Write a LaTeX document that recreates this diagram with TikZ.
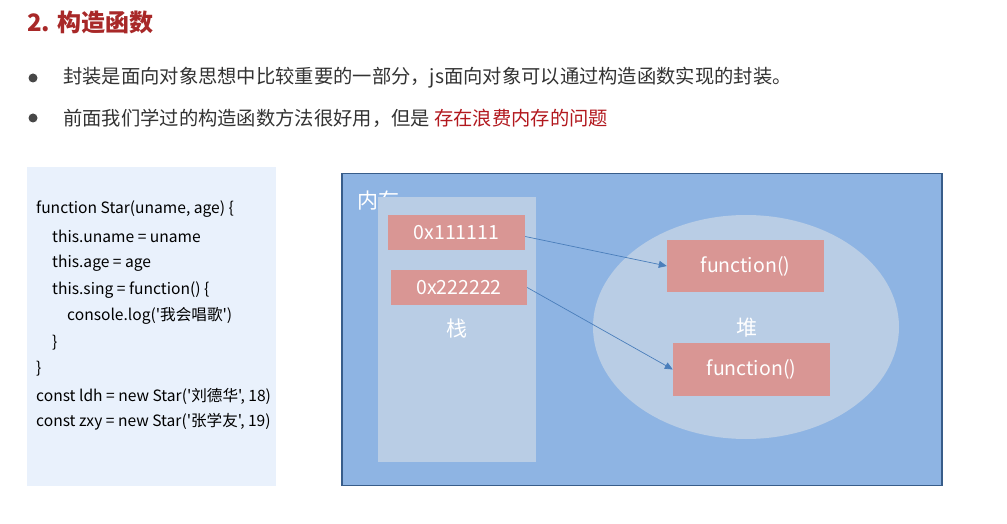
\documentclass[tikz,border=0pt]{standalone}
\usepackage{fontspec}
\setmainfont{Noto Sans CJK SC}
\newfontfamily\codefont[Ligatures=TeXOff]{Noto Sans CJK SC}
\usetikzlibrary{arrows.meta,shapes.geometric}
\definecolor{titlered}{RGB}{168,40,40}
\definecolor{hired}{RGB}{178,24,30}
\definecolor{txtgray}{RGB}{51,51,51}
\definecolor{codebg}{RGB}{233,241,252}
\definecolor{membg}{RGB}{142,180,227}
\definecolor{memborder}{RGB}{56,93,138}
\definecolor{lightbg}{RGB}{185,205,229}
\definecolor{salmon}{RGB}{217,150,148}
\definecolor{arrowblue}{RGB}{74,126,187}
\tikzset{
  codeline/.style={anchor=west, inner sep=0pt, text=black, font=\codefont\fontsize{15.6}{17}\selectfont},
  bullettext/.style={anchor=west, inner sep=0pt, text=txtgray, font=\fontsize{19.3}{21}\selectfont},
  bulletdot/.style={circle, fill=txtgray!90, inner sep=0pt, minimum size=9pt},
  memcell/.style={fill=salmon, draw=none, text=white, inner sep=0pt, font=\fontsize{19.5}{21}\selectfont},
  whitelabel/.style={text=white, inner sep=0pt, font=\fontsize{21}{23}\selectfont},
  ptr/.style={draw=arrowblue, line width=0.7pt, -{Triangle[length=8pt,width=7pt]}}
}
\begin{document}
\begin{tikzpicture}[x=1pt,y=-1pt]
\useasboundingbox (0,0) rectangle (1007,524);
\fill[white] (0,0) rectangle (1007,524);
% title
\node[anchor=west, inner sep=0pt, text=titlered, font=\fontsize{24}{27}\selectfont\bfseries] (title) at (27,22) {2. 构造函数};
% bullets
\node[bulletdot] (d1) at (33,78) {};
\node[bullettext] (t1) at (63,78) {封装是面向对象思想中比较重要的一部分，js面向对象可以通过构造函数实现的封装。};
\node[bulletdot] (d2) at (33,118) {};
\node[bullettext] (t2) at (63,118) {前面我们学过的构造函数方法很好用，但是 \textcolor{hired}{存在浪费内存的问题}};
% code box
\fill[codebg] (27,167) rectangle (276,486);
\node[codeline] (c1) at (36,209) {function Star(uname, age) \{};
\node[codeline] (c2) at (52,236) {this.uname = uname};
\node[codeline] (c3) at (52,263) {this.age = age};
\node[codeline] (c4) at (52,290) {this.sing = function() \{};
\node[codeline] (c5) at (67,316) {console.log('我会唱歌')};
\node[codeline] (c6) at (52,343) {\}};
\node[codeline] (c7) at (36,369) {\}};
\node[codeline] (c8) at (36,396) {const ldh = new Star('刘德华', 18)};
\node[codeline] (c9) at (36,422) {const zxy = new Star('张学友', 19)};
% memory
\node[draw=memborder, line width=1.6pt, fill=membg, minimum width=600pt, minimum height=312pt, inner sep=0pt] (mem) at (642,329.5) {};
\node[whitelabel, anchor=west] (memlabel) at (357,201) {内存};
% stack
\node[fill=lightbg, minimum width=158pt, minimum height=265pt, inner sep=0pt] (stack) at (457,329.5) {};
\node[memcell, minimum width=137pt, minimum height=35pt] (b1) at (456.5,232.5) {0x111111};
\node[memcell, minimum width=136pt, minimum height=35pt] (b2) at (459,287.5) {0x222222};
\node[whitelabel] (stlabel) at (457,329) {栈};
% heap
\node[ellipse, fill=lightbg, minimum width=306pt, minimum height=224pt, inner sep=0pt] (heap) at (746,327) {};
\node[memcell, minimum width=157pt, minimum height=52pt] (f1) at (745.5,266) {function()};
\node[memcell, minimum width=157pt, minimum height=53pt] (f2) at (751.5,369.5) {function()};
\node[whitelabel] (hplabel) at (747,328) {堆};
% pointers
\draw[ptr] ([yshift=-4pt]b1.east) -- (f1.west);
\draw[ptr] (b2.east) -- (f2.west);
\end{tikzpicture}
\end{document}
